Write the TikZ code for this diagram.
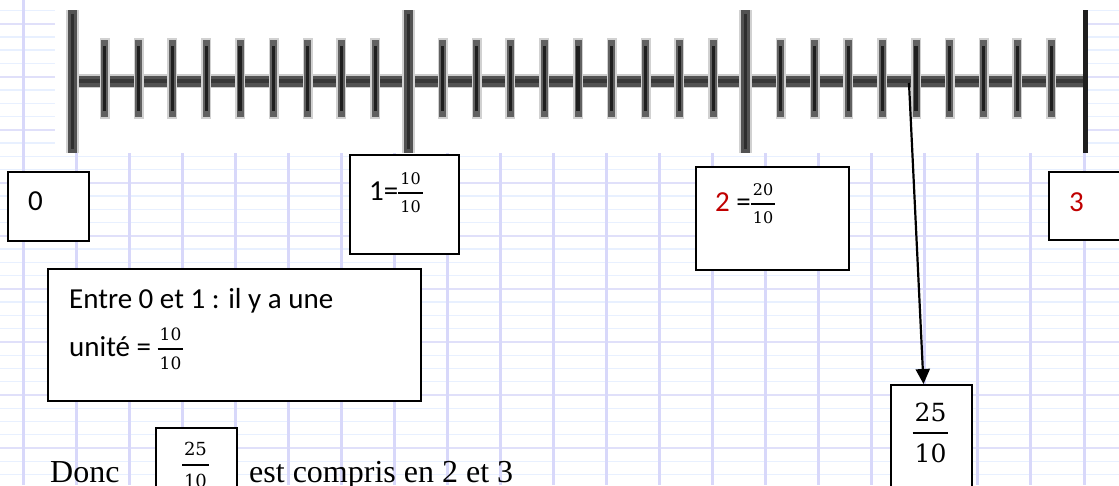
\documentclass[tikz,border=0pt]{standalone}
\usepackage{fix-cm}
\usepackage[no-math]{fontspec}
\setmainfont{Carlito}
\newfontfamily\timesf{Liberation Serif}
\newfontfamily\fracfont{DejaVu Serif}
\usetikzlibrary{arrows.meta}
\definecolor{vline}{RGB}{216,216,250}
\definecolor{hmaj}{RGB}{224,224,250}
\definecolor{hmin}{RGB}{232,240,255}
\definecolor{numred}{RGB}{192,0,0}
\newcommand\fr[4]{% #1 size, #2 gap, #3 num, #4 den
  \ensuremath{\vcenter{\hbox{\fracfont\fontsize{#1}{#1}\selectfont
    \vbox{\offinterlineskip\halign{\hfil##\hfil\cr
      \kern2pt #3\kern2pt\cr
      \noalign{\kern#2\hrule height 1.8pt\kern#2}
      #4\cr}}}}}}
\begin{document}
\begin{tikzpicture}[x=1pt,y=-1pt,
  box/.style={draw=black, line width=2pt, fill=white, inner sep=0pt, anchor=north west},
  lbl/.style={inner sep=0pt, anchor=base west, font=\fontsize{29}{34}\selectfont},
  serif/.style={inner sep=0pt, anchor=base west, font=\timesf\fontsize{32}{38}\selectfont},
  smalltick/.style={line width=3.2pt, black!88},
  arr/.style={line width=2.2pt, -{Triangle[length=15pt,width=14pt]}}
]
\useasboundingbox (0,0) rectangle (1119,485);
\begin{scope}
\clip (0,0) rectangle (1119,485);
% graph paper
\foreach \m in {-7,...,29}
  \draw[hmin, line width=1.4pt] (0,{395-13.2625*\m}) -- (1119,{395-13.2625*\m});
\foreach \m in {-1,...,7}
  \draw[hmaj, line width=2pt] (0,{395-53.05*\m}) -- (1119,{395-53.05*\m});
\foreach \k in {0,...,20}
  \draw[vline, line width=3pt] ({23+53.05*\k},0) -- ({23+53.05*\k},485);
% ruler background
\fill[white] (55,0) rectangle (1088,153);
% main line
\draw[line width=14pt, black!20] (66,81) -- (1085,81);
\draw[line width=11pt, black!68] (66,81) -- (1085,81);
\draw[line width=4pt, black!78] (66,81) -- (1085,81);
% small ticks
\foreach \u in {0,10,20} {
  \foreach \v in {1,...,9} {
    \pgfmathsetmacro{\tx}{71+33.8*(\u+\v)}
    \draw[line width=10pt, black!18] (\tx,38) -- (\tx,119);
    \draw[line width=7pt, black!62] (\tx,40) -- (\tx,117);
    \draw[smalltick] (\tx,46) -- (\tx,111);
  }
}
% big ticks
\foreach \x in {72,408,745} {
  \draw[line width=13pt, black!18] (\x,10) -- (\x,153);
  \draw[line width=9pt, black!68] (\x,10) -- (\x,153);
  \draw[line width=3pt, black!82] (\x,14) -- (\x,149);
}
\draw[line width=5pt, black!88] (1085,10) -- (1085,153);
% boxes
\node[box, minimum width=81pt, minimum height=69pt] (b0) at (7,171) {};
\node[lbl] (t0) at (28,210) {0};
\node[box, minimum width=109pt, minimum height=99pt] (b1) at (349,154) {};
\node[lbl] (t1) at (369,200) {1=\fr{16}{7pt}{10}{10}};
\node[box, minimum width=153pt, minimum height=103pt] (b2) at (695,166) {};
\node[lbl] (t2) at (715,211) {\textcolor{numred}{2} =\fr{16}{7pt}{20}{10}};
\node[box, minimum width=90pt, minimum height=68pt] (b3) at (1048,171) {};
\node[lbl] (t3) at (1069,211) {\textcolor{numred}{3}};
\node[box, minimum width=373pt, minimum height=132pt] (be) at (47,268) {};
\node[lbl] (te1) at (69,308) {Entre 0 et 1 : il y a une};
\node[lbl] (te2) at (69,356) {unité = \fr{17}{7pt}{10}{10}};
\node[box, minimum width=81pt, minimum height=130pt] (big25) at (890,384) {};
\node[lbl, anchor=base] (tbig) at (930.5,440) {\fr{25}{10pt}{25}{10}};
\node[box, minimum width=81pt, minimum height=90pt] (sm25) at (155,427) {};
\node[lbl, anchor=base] (tsm) at (195.5,472) {\fr{18}{8pt}{25}{10}};
\node[serif] (donc) at (50,482) {Donc};
\node[serif] (est) at (249,482) {est compris en 2 et 3};
% arrow
\coordinate (a0) at (909,83);
\draw[arr] (a0) -- ([xshift=-8pt]big25.north);
\end{scope}
\end{tikzpicture}
\end{document}
